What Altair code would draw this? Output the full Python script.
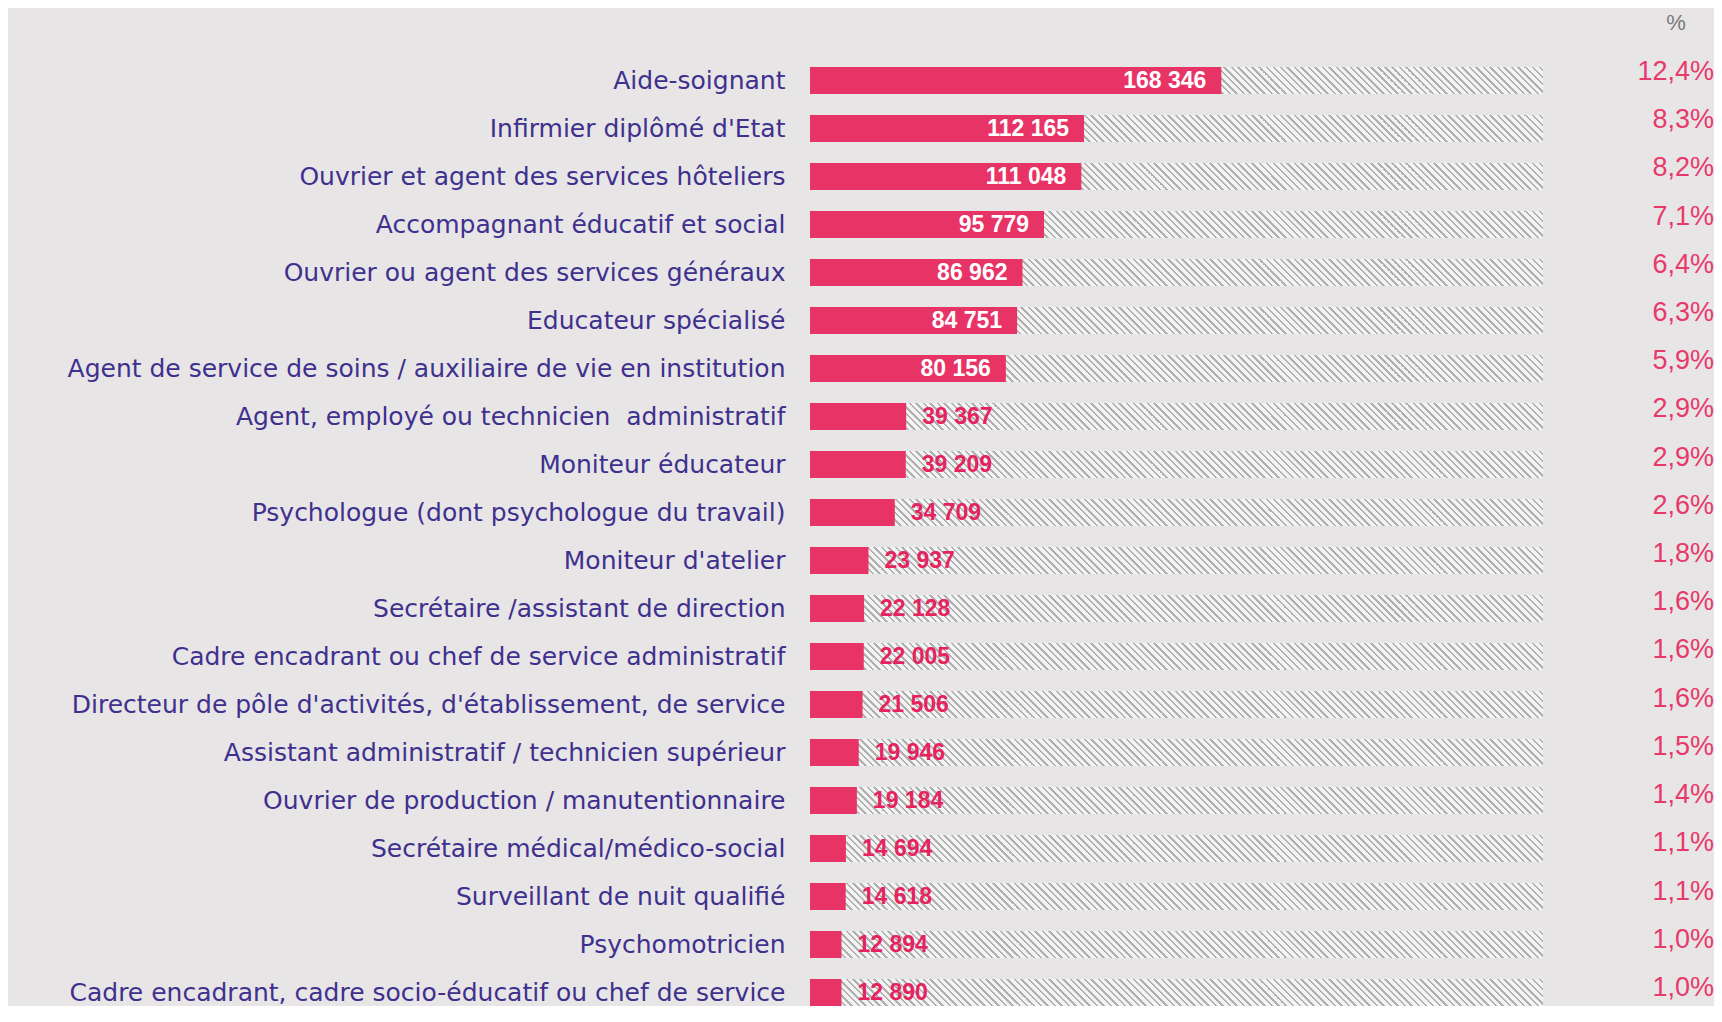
import math
import altair as alt
import pandas as pd

# ---------------- data ----------------
labels = [
    "Aide-soignant",
    "Infirmier diplômé d'Etat",
    "Ouvrier et agent des services hôteliers",
    "Accompagnant éducatif et social",
    "Ouvrier ou agent des services généraux",
    "Educateur spécialisé",
    "Agent de service de soins / auxiliaire de vie en institution",
    "Agent, employé ou technicien\u00a0 administratif",
    "Moniteur éducateur",
    "Psychologue (dont psychologue du travail)",
    "Moniteur d'atelier",
    "Secrétaire /assistant de direction",
    "Cadre encadrant ou chef de service administratif",
    "Directeur de pôle d'activités, d'établissement, de service",
    "Assistant administratif / technicien supérieur",
    "Ouvrier de production / manutentionnaire",
    "Secrétaire médical/médico-social",
    "Surveillant de nuit qualifié",
    "Psychomotricien",
    "Cadre encadrant, cadre socio-éducatif ou chef de service",
]
values = [168346, 112165, 111048, 95779, 86962, 84751, 80156, 39367, 39209, 34709,
          23937, 22128, 22005, 21506, 19946, 19184, 14694, 14618, 12894, 12890]
pcts = ["12,4%", "8,3%", "8,2%", "7,1%", "6,4%", "6,3%", "5,9%", "2,9%", "2,9%", "2,6%",
        "1,8%", "1,6%", "1,6%", "1,6%", "1,5%", "1,4%", "1,1%", "1,1%", "1,0%", "1,0%"]
TOTAL = 300000
HEADER = ["%"]

df = pd.DataFrame({"label": labels, "value": values, "pct": pcts})
df["full"] = TOTAL
df["txt"] = [f"{v:,}".replace(",", " ") for v in values]
df["inside"] = df["value"] >= 80000

# ---------------- style ----------------
BG = "#e7e5e6"
PINK = "#e83367"
PINK_TXT = "#e6235f"
PINK_PCT = "#e8396b"
PURPLE = "#40308e"
GREY = "#7a7a7a"

W = 733
STEP = 48
BAR_H = 27
n = len(labels)
P_IN = 1 - BAR_H / STEP
H = STEP * (n - 1) + BAR_H

# diagonal hatch built as a striped linear gradient
LIGHT, DARK = "#f3f3f3", "#b0b0b0"
PERIOD, DW = 7.0, 2.2
L = W + BAR_H
stops = [{"offset": 0.0, "color": LIGHT}]
for k in range(math.floor(-BAR_H / PERIOD) - 1, int(W / PERIOD) + 2):
    a = k * PERIOD
    b = a + DW
    ta = min(max((a + BAR_H) / L, 0.0), 1.0)
    tb = min(max((b + BAR_H) / L, 0.0), 1.0)
    if tb <= ta:
        continue
    for o, c in ((ta, LIGHT), (ta, DARK), (tb, DARK), (tb, LIGHT)):
        stops.append({"offset": round(o, 6), "color": c})
stops.append({"offset": 1.0, "color": LIGHT})
kk = (W + BAR_H) / (W ** 2 + BAR_H ** 2)
hatch = {"gradient": "linear", "x1": 0, "y1": 1, "x2": kk * W, "y2": 1 - kk * BAR_H,
         "stops": stops}

xs = alt.Scale(domain=[0, TOTAL], nice=False, zero=True)
ys = alt.Scale(domain=labels, paddingInner=P_IN, paddingOuter=0)
y_enc = alt.Y("label:N", sort=labels, scale=ys,
              axis=alt.Axis(title=None, ticks=False, domain=False, grid=False,
                            labelFont="DejaVu Sans", labelFontSize=25,
                            labelColor=PURPLE, labelPadding=25, labelLimit=1200))

base = alt.Chart(df)

hatch_bar = base.mark_bar(color=hatch).encode(
    x=alt.X("full:Q", scale=xs, axis=None), y=y_enc)
bars = base.mark_bar(color=PINK).encode(
    x=alt.X("value:Q", scale=xs, axis=None), y=y_enc)
txt_in = base.transform_filter("datum.inside").mark_text(
    align="right", baseline="middle", dx=-15, font="Liberation Sans",
    fontWeight="bold", fontSize=23, color="white").encode(
    x=alt.X("value:Q", scale=xs, axis=None), y=y_enc, text="txt:N")
txt_out = base.transform_filter("!datum.inside").mark_text(
    align="left", baseline="middle", dx=16, font="Liberation Sans",
    fontWeight="bold", fontSize=23, color=PINK_TXT).encode(
    x=alt.X("value:Q", scale=xs, axis=None), y=y_enc, text="txt:N")

main = alt.layer(hatch_bar, bars, txt_in, txt_out)

pct_layer = base.mark_text(
    align="right", baseline="middle", font="Liberation Sans",
    fontSize=27, color=PINK_PCT).encode(
    x=alt.value(904),
    y=alt.Y("label:N", sort=labels,
            scale=alt.Scale(type="point", domain=labels, padding=0.239, align=0.217),
            axis=None),
    text="pct:N")

header = alt.Chart(pd.DataFrame({"h": HEADER})).mark_text(
    align="center", baseline="middle", font="Liberation Sans",
    fontSize=22, color=GREY).encode(
    x=alt.value(866), y=alt.value(-44), text="h:N")

chart = alt.layer(main, pct_layer, header).resolve_scale(y="independent").properties(
    width=W, height=H,
    autosize=alt.AutoSizeParams(type="none"),
    padding={"left": 802, "top": 59, "right": 171, "bottom": 0},
).configure(background=BG).configure_view(stroke=None)

chart.save("out.html", embed_options={"renderer": "svg", "actions": False})
